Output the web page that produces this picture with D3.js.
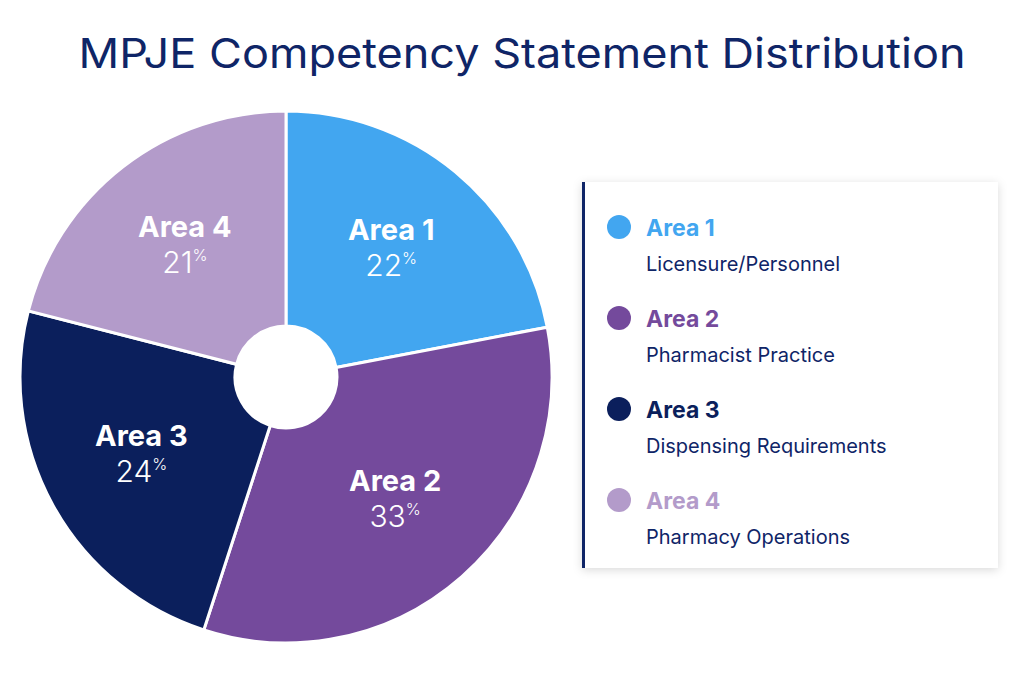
<!DOCTYPE html>
<html><head><meta charset="utf-8">
<script src="https://cdn.jsdelivr.net/npm/d3@7"></script>
<style>
body{margin:0;background:#fff;font-family:Inter,"Open Sans",sans-serif;}
</style></head>
<body><svg id="chart" width="1024" height="675"></svg>
<script>
var areas = ["Area 1", "Area 2", "Area 3", "Area 4"];
var values = [22, 33, 24, 21];
var descriptions = ["Licensure/Personnel", "Pharmacist Practice", "Dispensing Requirements", "Pharmacy Operations"];
var colors = ["#42a6f0", "#744a9c", "#0b1f5c", "#b39bca"];

var svg = d3.select("#chart").attr("font-family", "Inter, sans-serif");
var navy = "#0f2567";

svg.append("text").attr("x", 522).attr("y", 68).attr("text-anchor", "middle")
  .attr("font-size", "41px").attr("fill", navy)
  .attr("textLength", 887).attr("lengthAdjust", "spacingAndGlyphs")
  .text("MPJE Competency Statement Distribution");

// shadow filter
var defs = svg.append("defs");
var f = defs.append("filter").attr("id", "sh").attr("x", "-10%").attr("y", "-10%").attr("width", "120%").attr("height", "120%");
f.append("feDropShadow").attr("dx", 0).attr("dy", 2).attr("stdDeviation", 5).attr("flood-color", "#000").attr("flood-opacity", 0.15);

// Pie
var cx = 286, cy = 377, R = 266, r0 = 51;
var pie = d3.pie().sort(null).value(function (d) { return d; });
var arcs = pie(values);
var arc = d3.arc().innerRadius(r0).outerRadius(R);
var labelArc = d3.arc().innerRadius(165).outerRadius(165);
var g = svg.append("g").attr("transform", "translate(" + cx + "," + cy + ")");
g.selectAll("path").data(arcs).join("path")
  .attr("d", arc).attr("fill", function (d, i) { return colors[i]; })
  .attr("stroke", "#fff").attr("stroke-width", 3);

var lab = g.selectAll("g.lab").data(arcs).join("g").attr("class", "lab")
  .attr("transform", function (d) { var c = labelArc.centroid(d); return "translate(" + c[0] + "," + c[1] + ")"; });
lab.append("text").attr("text-anchor", "middle").attr("y", -10)
  .attr("font-size", "29px").attr("font-weight", "bold").attr("fill", "#fff")
  .text(function (d, i) { return areas[i]; });
var pt = lab.append("text").attr("text-anchor", "middle").attr("y", 26)
  .attr("font-size", "30px").attr("font-weight", "300").attr("fill", "#fff");
pt.append("tspan").text(function (d) { return d.data; });
pt.append("tspan").attr("font-size", "16px").attr("dy", -12).text("%");

// Legend
var lx = 582, ly = 182, lw = 416, lh = 386;
svg.append("rect").attr("x", lx).attr("y", ly).attr("width", lw).attr("height", lh)
  .attr("fill", "#fff").attr("filter", "url(#sh)");
svg.append("rect").attr("x", lx).attr("y", ly).attr("width", 3).attr("height", lh).attr("fill", navy);

var ys = d3.scaleBand().domain(areas).range([ly + 28, ly + 28 + 4 * 91]);
var item = svg.selectAll("g.item").data(areas).join("g").attr("class", "item")
  .attr("transform", function (d) { return "translate(" + lx + "," + ys(d) + ")"; });
item.append("circle").attr("cx", 37).attr("cy", 17).attr("r", 12)
  .attr("fill", function (d, i) { return colors[i]; });
item.append("text").attr("x", 64).attr("y", 26).attr("font-size", "23px").attr("font-weight", "bold")
  .attr("fill", function (d, i) { return colors[i]; }).text(function (d) { return d; });
item.append("text").attr("x", 64).attr("y", 61).attr("font-size", "20px")
  .attr("fill", navy).text(function (d, i) { return descriptions[i]; });
</script></body></html>
